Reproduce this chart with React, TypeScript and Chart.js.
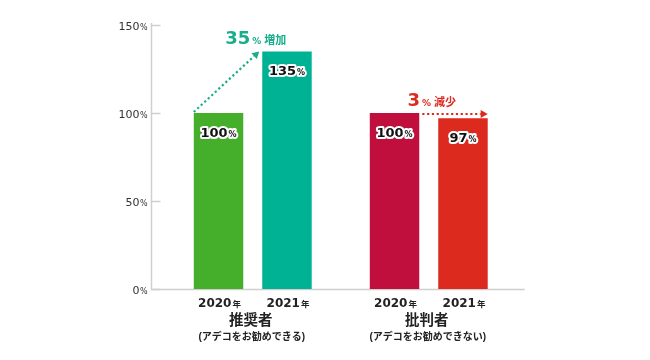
import React, { useEffect, useRef } from 'react';
import { Chart, registerables } from 'chart.js';

Chart.register(...registerables);

const groups = ['推奨者', '批判者'];
const groupNotes = ['(アデコをお勧めできる)', '(アデコをお勧めできない)'];
const years = ['2020', '2021'];
const values2020 = [100, 100];
const values2021 = [135, 97];
const changeWords = ['増加', '減少'];
const yTicks = [0, 50, 100, 150];

const colors2020 = ['#45af2c', '#c10f3d'];
const colors2021 = ['#00b294', '#dc2a1f'];
const changeColors = ['#17ae8c', '#dc2a1f'];

const NUM = "'DejaVu Sans', 'Noto Sans CJK JP', sans-serif";
const CJK = "'Noto Sans CJK JP', 'DejaVu Sans', sans-serif";

type Part = { text: string; font: string; gap?: number };

function drawParts(ctx: CanvasRenderingContext2D, parts: Part[], x: number, y: number, align: 'center' | 'right', fill: string, stroke?: string) {
  let total = 0;
  const widths = parts.map((p) => {
    ctx.font = p.font;
    const w = ctx.measureText(p.text).width;
    total += w + (p.gap || 0);
    return w;
  });
  let cx = align === 'center' ? x - total / 2 : x - total;
  ctx.textAlign = 'left';
  ctx.textBaseline = 'alphabetic';
  parts.forEach((p, i) => {
    ctx.font = p.font;
    if (stroke) {
      ctx.strokeStyle = stroke;
      ctx.lineWidth = 4;
      ctx.lineJoin = 'round';
      ctx.strokeText(p.text, cx, y);
    }
    ctx.fillStyle = fill;
    ctx.fillText(p.text, cx, y);
    cx += widths[i] + (p.gap || 0);
  });
}

function dottedArrow(ctx: CanvasRenderingContext2D, x1: number, y1: number, x2: number, y2: number, color: string) {
  const ang = Math.atan2(y2 - y1, x2 - x1);
  const head = 7;
  const hw = 4;
  const ex = x2 - Math.cos(ang) * head;
  const ey = y2 - Math.sin(ang) * head;
  ctx.save();
  ctx.strokeStyle = color;
  ctx.fillStyle = color;
  ctx.lineWidth = 2.2;
  ctx.setLineDash([2.2, 2.6]);
  ctx.beginPath();
  ctx.moveTo(x1, y1);
  ctx.lineTo(ex, ey);
  ctx.stroke();
  ctx.setLineDash([]);
  ctx.beginPath();
  ctx.moveTo(x2, y2);
  ctx.lineTo(ex + Math.cos(ang + Math.PI / 2) * hw, ey + Math.sin(ang + Math.PI / 2) * hw);
  ctx.lineTo(ex + Math.cos(ang - Math.PI / 2) * hw, ey + Math.sin(ang - Math.PI / 2) * hw);
  ctx.closePath();
  ctx.fill();
  ctx.restore();
}

const annotatePlugin = {
  id: 'annotate',
  beforeDatasetsDraw(chart: any) {
    const { ctx, chartArea, scales } = chart;
    const y = scales.y;
    const axisX = Math.round(chartArea.left - 14) + 0.5;
    const bottom = Math.round(y.getPixelForValue(0)) + 0.5;
    ctx.save();
    ctx.strokeStyle = '#cfcfcf';
    ctx.lineWidth = 1.5;
    ctx.beginPath();
    ctx.moveTo(axisX, y.getPixelForValue(yTicks[yTicks.length - 1]) - 2);
    ctx.lineTo(axisX, bottom);
    ctx.lineTo(chartArea.right + 8, bottom);
    ctx.stroke();
    yTicks.forEach((v) => {
      const py = Math.round(y.getPixelForValue(v)) + 0.5;
      ctx.beginPath();
      ctx.moveTo(axisX, py);
      ctx.lineTo(axisX + 9, py);
      ctx.stroke();
      drawParts(ctx, [
        { text: String(v), font: `11px ${NUM}`, gap: 0.5 },
        { text: '%', font: `8px ${NUM}` },
      ], axisX - 4, py + 4, 'right', '#333333');
    });
    ctx.restore();
  },
  afterDatasetsDraw(chart: any) {
    const { ctx, scales } = chart;
    const x = scales.x;
    const y = scales.y;
    const bottom = y.getPixelForValue(0);
    const m0 = chart.getDatasetMeta(0).data as any[];
    const m1 = chart.getDatasetMeta(1).data as any[];
    ctx.save();
    // bar value labels
    [m0, m1].forEach((meta, d) => {
      const vals = d === 0 ? values2020 : values2021;
      meta.forEach((bar: any, i: number) => {
        drawParts(ctx, [
          { text: String(vals[i]), font: `bold 13px ${NUM}`, gap: 1 },
          { text: '%', font: `bold 8px ${NUM}` },
        ], bar.x, bar.y + 24, 'center', '#111111', '#ffffff');
        drawParts(ctx, [
          { text: years[d], font: `bold 12px ${NUM}`, gap: 1 },
          { text: '年', font: `bold 8.5px ${CJK}` },
        ], bar.x + 1, bottom + 17.5, 'center', '#222222');
      });
    });
    // group labels & change annotations
    groups.forEach((g, i) => {
      const gx = x.getPixelForValue(i);
      drawParts(ctx, [{ text: g, font: `bold 14.5px ${CJK}` }], gx - 2, bottom + 36, 'center', '#222222');
      drawParts(ctx, [{ text: groupNotes[i], font: `bold 10px ${NUM.replace("'DejaVu Sans', ", "'Liberation Sans', ")}` }], gx - 1, bottom + 51, 'center', '#222222');
      const a = m0[i];
      const b = m1[i];
      const diff = values2021[i] - values2020[i];
      const top = Math.min(a.y, b.y);
      drawParts(ctx, [
        { text: String(Math.abs(diff)), font: `bold 18px ${NUM}`, gap: 2 },
        { text: '%', font: `bold 9px ${NUM}`, gap: 3 },
        { text: changeWords[i], font: `bold 11px ${CJK}` },
      ], gx + 3, top - 7, 'center', changeColors[i]);
      if (diff > 0) {
        dottedArrow(ctx, a.x - a.width / 2, a.y - 1, b.x - b.width / 2 - 3, b.y, changeColors[i]);
      } else {
        dottedArrow(ctx, a.x + a.width / 2 + 3, a.y + 1, b.x + b.width / 2, a.y + 1, changeColors[i]);
      }
    });
    ctx.restore();
  },
};

export default function App() {
  const ref = useRef<HTMLCanvasElement>(null);
  useEffect(() => {
    if (!ref.current) return;
    const chart = new Chart(ref.current, {
      type: 'bar',
      data: {
        labels: groups,
        datasets: [
          { label: '2020年', data: values2020, backgroundColor: colors2020, categoryPercentage: 0.778, barPercentage: 0.7226 },
          { label: '2021年', data: values2021, backgroundColor: colors2021, categoryPercentage: 0.778, barPercentage: 0.7226 },
        ],
      },
      options: {
        animation: false,
        responsive: true,
        maintainAspectRatio: false,
        layout: { padding: { left: 156.75, right: 125.25, top: 17, bottom: 63 } },
        plugins: { legend: { display: false }, tooltip: { enabled: false } },
        scales: {
          x: { display: false },
          y: { display: false, min: 0, max: 150 },
        },
      },
      plugins: [annotatePlugin],
    });
    return () => chart.destroy();
  }, []);
  return (
    <div style={{ width: 634, height: 344, position: 'relative' }}>
      <canvas ref={ref} />
    </div>
  );
}
